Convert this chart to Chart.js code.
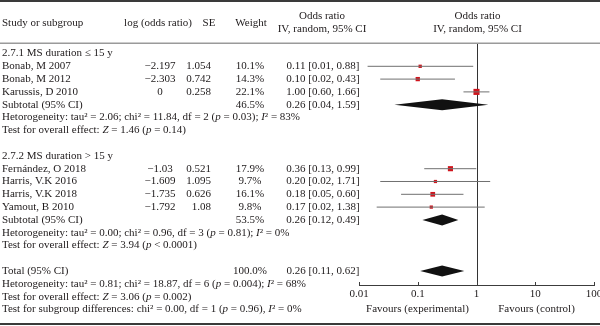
<!DOCTYPE html>
<html>
<head>
<meta charset="utf-8">
<script src="https://cdn.jsdelivr.net/npm/chart.js@4.4.0/dist/chart.umd.min.js"></script>
<style>
  html, body { margin: 0; padding: 0; background: #fff; }
  #wrap { width: 600px; height: 326px; }
</style>
</head>
<body>
<div id="wrap"><canvas id="forest" width="600" height="326"></canvas></div>
<script>
// study rows
const studies = ['Bonab, M 2007', 'Bonab, M 2012', 'Karussis, D 2010', 'Fernández, O 2018', 'Harris, V.K 2016', 'Harris, V.K 2018', 'Yamout, B 2010'];
const studyRows = [1, 2, 3, 9, 10, 11, 12];
const logOdds = [-2.197, -2.303, 0, -1.03, -1.609, -1.735, -1.792];
const stdErr = [1.054, 0.742, 0.258, 0.521, 1.095, 0.626, 1.08];
const weights = [10.1, 14.3, 22.1, 17.9, 9.7, 16.1, 9.8];
const oddsRatio = [0.11, 0.10, 1.00, 0.36, 0.20, 0.18, 0.17];
const ciLow = [0.014, 0.023, 0.60, 0.129, 0.023, 0.052, 0.020];
const ciHigh = [0.88, 0.43, 1.66, 0.99, 1.71, 0.60, 1.38];

// pooled estimates (diamonds)
const pooledLabels = ['Subtotal (95% CI)', 'Subtotal (95% CI)', 'Total (95% CI)'];
const pooledRows = [4, 13, 17];
const pooledWeights = [46.5, 53.5, 100.0];
const pooledOR = [0.26, 0.26, 0.26];
const pooledLow = [0.04, 0.12, 0.11];
const pooledHigh = [1.59, 0.49, 0.62];

const headings = ['2.7.1 MS duration ≤ 15 y', '2.7.2 MS duration > 15 y'];
const headingRows = [0, 8];
const notes = [
  'Hetorogeneity: tau² = 2.06; chi² = 11.84, df = 2 (*p* = 0.03); *I*² = 83%',
  'Test for overall effect: *Z* = 1.46 (*p* = 0.14)',
  'Hetorogeneity: tau² = 0.00; chi² = 0.96, df = 3 (*p* = 0.81); *I*² = 0%',
  'Test for overall effect: *Z* = 3.94 (*p* < 0.0001)',
  'Hetorogeneity: tau² = 0.81; chi² = 18.87, df = 6 (*p* = 0.004); *I*² = 68%',
  'Test for overall effect: *Z* = 3.06 (*p* = 0.002)',
  'Test for subgroup differences: chi² = 0.00, df = 1 (*p* = 0.96), *I*² = 0%'
];
const noteRows = [5, 6, 14, 15, 18, 19, 20];
const xTicks = [0.01, 0.1, 1, 10, 100];

const FAMILY = '"Liberation Serif", "Times New Roman", serif';
const FONT = '11px ' + FAMILY;
const INK = '#1e1a1b';

const fmt2 = v => v.toFixed(2);
const orText = (v, lo, hi) => fmt2(v) + ' [' + fmt2(lo) + ', ' + fmt2(hi) + ']';

// text with *italic* parts
function drawRich(ctx, str, x, y) {
  const parts = str.split('*');
  parts.forEach((p, i) => {
    ctx.font = (i % 2 ? 'italic ' : '') + FONT;
    ctx.fillText(p, x, y);
    x += ctx.measureText(p).width;
  });
  ctx.font = FONT;
}

const datasets = [];
studies.forEach((s, i) => {
  datasets.push({
    data: [{x: ciLow[i], y: studyRows[i]}, {x: ciHigh[i], y: studyRows[i]}],
    showLine: true,
    borderColor: '#707070',
    borderWidth: 1,
    pointRadius: 0,
    pointHoverRadius: 0
  });
});
datasets.push({
  data: oddsRatio.map((v, i) => ({x: v, y: studyRows[i]})),
  pointStyle: 'rect',
  pointRadius: weights.map(w => (1 + w * 0.23) / Math.SQRT2),
  backgroundColor: '#d0141c',
  borderWidth: 0
});

const forestPlugin = {
  id: 'forest',
  beforeDatasetsDraw(chart) {
    const {ctx, chartArea, scales: {x}} = chart;
    const px = Math.round(x.getPixelForValue(1)) + 0.5;
    ctx.save();
    ctx.strokeStyle = '#333';
    ctx.lineWidth = 1;
    ctx.beginPath();
    ctx.moveTo(px, chartArea.top);
    ctx.lineTo(px, chartArea.bottom);
    ctx.stroke();
    ctx.restore();
  },
  afterDatasetsDraw(chart) {
    const {ctx, scales: {x, y}} = chart;
    ctx.save();
    ctx.fillStyle = '#111';
    pooledRows.forEach((r, i) => {
      const py = y.getPixelForValue(r);
      ctx.beginPath();
      ctx.moveTo(x.getPixelForValue(pooledLow[i]), py);
      ctx.lineTo(x.getPixelForValue(pooledOR[i]), py - 5.5);
      ctx.lineTo(x.getPixelForValue(pooledHigh[i]), py);
      ctx.lineTo(x.getPixelForValue(pooledOR[i]), py + 5.5);
      ctx.closePath();
      ctx.fill();
    });
    ctx.restore();
  },
  afterDraw(chart) {
    const {ctx, chartArea, scales: {x, y}} = chart;
    const top = chartArea.top;
    ctx.save();
    // rules
    ctx.fillStyle = '#3a3a3a';
    ctx.fillRect(0, 0, 600, 2);
    ctx.fillRect(0, 323, 600, 2);
    ctx.fillStyle = '#9a9a9a';
    ctx.fillRect(0, top - 1.5, 600, 1.5);

    ctx.fillStyle = INK;
    ctx.font = FONT;
    ctx.textBaseline = 'middle';

    // column headers
    ctx.textAlign = 'left';
    ctx.fillText('Study or subgroup', 2, top - 21);
    ctx.textAlign = 'center';
    ctx.fillText('log (odds ratio)', 158, top - 21);
    ctx.fillText('SE', 209, top - 21);
    ctx.fillText('Weight', 251, top - 21);
    ctx.fillText('Odds ratio', 322, top - 28);
    ctx.fillText('IV, random, 95% CI', 322, top - 15);
    const xMid = x.getPixelForValue(1);
    ctx.fillText('Odds ratio', xMid + 1, top - 28);
    ctx.fillText('IV, random, 95% CI', xMid + 1, top - 15);

    // subgroup headings
    ctx.textAlign = 'left';
    headings.forEach((h, i) => ctx.fillText(h, 2, y.getPixelForValue(headingRows[i])));

    // study rows
    studies.forEach((s, i) => {
      const py = y.getPixelForValue(studyRows[i]);
      ctx.textAlign = 'left';
      ctx.fillText(s, 2, py);
      ctx.textAlign = 'center';
      ctx.fillText(String(logOdds[i]).replace('-', '−'), 160, py);
      ctx.textAlign = 'right';
      ctx.fillText(String(stdErr[i]), 211, py);
      ctx.textAlign = 'center';
      ctx.fillText(weights[i].toFixed(1) + '%', 250, py);
      ctx.fillText(orText(oddsRatio[i], ciLow[i], ciHigh[i]), 323, py);
    });

    // pooled rows
    pooledRows.forEach((r, i) => {
      const py = y.getPixelForValue(r);
      ctx.textAlign = 'left';
      ctx.fillText(pooledLabels[i], 2, py);
      ctx.textAlign = 'center';
      ctx.fillText(pooledWeights[i].toFixed(1) + '%', 250, py);
      ctx.fillText(orText(pooledOR[i], pooledLow[i], pooledHigh[i]), 323, py);
    });

    // notes
    ctx.textAlign = 'left';
    notes.forEach((n, i) => drawRich(ctx, n, 2, y.getPixelForValue(noteRows[i])));

    // small upward ticks on the axis
    ctx.strokeStyle = '#3c3c3c';
    ctx.lineWidth = 1;
    xTicks.forEach(v => {
      const px = Math.round(x.getPixelForValue(v)) + 0.5;
      ctx.beginPath();
      ctx.moveTo(px, chartArea.bottom);
      ctx.lineTo(px, chartArea.bottom - 3);
      ctx.stroke();
    });

    // favours labels
    const fy = y.getPixelForValue(20);
    ctx.textAlign = 'center';
    ctx.fillText('Favours (experimental)', xMid - 59, fy);
    ctx.fillText('Favours (control)', xMid + 60, fy);
    ctx.restore();
  }
};

new Chart(document.getElementById('forest'), {
  type: 'scatter',
  data: { datasets: datasets },
  options: {
    responsive: false,
    animation: false,
    events: [],
    layout: { padding: { left: 359, right: 6, top: 44, bottom: 0 } },
    plugins: { legend: { display: false }, tooltip: { enabled: false } },
    scales: {
      x: {
        type: 'logarithmic',
        min: 0.01,
        max: 100,
        afterBuildTicks: s => { s.ticks = xTicks.map(v => ({value: v})); },
        afterFit: s => { s.height = 41; s.paddingLeft = 0; s.paddingRight = 0; },
        grid: { drawOnChartArea: false, drawTicks: false },
        border: { display: true, color: '#3c3c3c', width: 1 },
        ticks: {
          autoSkip: false,
          maxRotation: 0,
          padding: 3,
          color: INK,
          font: { family: FAMILY, size: 11 },
          callback: v => String(v)
        }
      },
      y: {
        type: 'linear',
        display: false,
        min: -0.742,
        max: 18.086,
        reverse: true
      }
    }
  },
  plugins: [forestPlugin]
});
</script>
</body>
</html>
